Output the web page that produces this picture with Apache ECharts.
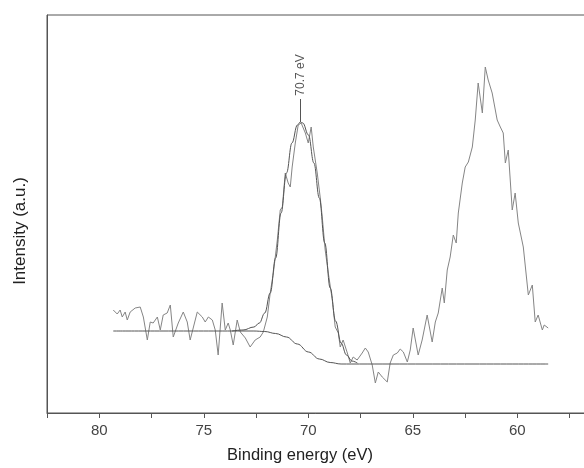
<!DOCTYPE html>
<html>
<head>
<meta charset="utf-8">
<script src="https://cdn.jsdelivr.net/npm/echarts@6/dist/echarts.min.js"></script>
<style>html,body{margin:0;padding:0;background:#fff;}#c{width:584px;height:468px;}</style>
</head>
<body>
<div id="c"></div>
<script>
// Measured spectrum (binding energy in eV, intensity in a.u.)
const bindingEnergy = [79.33,79.14,79.00,78.90,78.76,78.66,78.52,78.28,78.04,77.89,77.70,77.56,77.42,77.22,77.08,76.94,76.75,76.60,76.46,76.22,75.98,75.79,75.65,75.31,75.07,74.93,74.78,74.59,74.45,74.31,74.12,73.97,73.83,73.73,73.59,73.40,73.25,73.01,72.78,72.54,72.30,72.15,71.96,71.82,71.67,71.48,71.34,71.24,71.10,70.96,70.86,70.77,70.62,70.48,70.34,70.14,70.00,69.86,69.76,69.57,69.43,69.33,69.19,69.04,68.85,68.71,68.56,68.47,68.33,68.13,67.99,67.85,67.66,67.42,67.27,67.13,66.94,66.79,66.65,66.46,66.22,66.08,65.93,65.74,65.60,65.45,65.26,65.12,64.98,64.74,64.55,64.31,64.07,63.92,63.78,63.59,63.49,63.35,63.21,63.06,62.92,62.82,62.63,62.49,62.34,62.15,62.01,61.87,61.67,61.53,61.39,61.20,61.15,60.96,60.81,60.67,60.57,60.43,60.24,60.10,59.95,59.71,59.47,59.28,59.14,59.00,58.80,58.71,58.52];
const intensity = [103,99,103,96,101,93,101,105,106,96,73,91,90,96,83,98,100,108,76,90,101,91,73,101,96,91,96,93,83,58,110,83,90,83,68,93,81,75,66,73,76,81,96,120,140,173,203,206,240,230,226,246,270,288,290,280,270,286,266,240,216,196,163,140,113,86,80,66,73,60,50,56,53,60,65,61,48,30,41,36,31,50,58,60,64,61,51,63,85,58,73,98,71,91,100,125,110,143,156,178,170,200,230,246,251,266,293,330,300,346,333,320,318,293,286,280,250,263,203,220,190,166,118,128,91,98,83,88,85];

// Fitted envelope (peak + background)
const envEnergy = [73.65,73.12,72.60,72.34,72.08,71.82,71.56,71.30,71.04,70.78,70.52,70.38,70.26,69.99,69.73,69.47,69.21,68.95,68.69,68.43,68.17,67.91,67.65];
const envIntensity = [82,83,86,90,100,120,155,200,240,270,288,291,290,278,250,215,170,125,92,70,58,52,50];

// Background
const bgEnergy = [79.33,73.65,72.60,72.08,71.56,71.04,70.52,69.99,69.47,68.95,68.43,67.91,58.52];
const bgIntensity = [82,82,82,81.5,79.5,76,69,61,54,50.5,49,49,49];

// Peak annotation
const peakLabel = '70.7 eV';
const peakEnergy = 70.38;
const peakTop = 291;
const peakLineEnd = 314;
const peakLabelAt = 338;

// Axis tick values shown
const xTickValues = [80,75,70,65,60];

const zip = (a, b) => a.map((v, i) => [v, b[i]]);

const chart = echarts.init(document.getElementById('c'));
chart.setOption({
  animation: false,
  backgroundColor: '#fff',
  grid: {left: 47, width: 574.75, top: 15, bottom: 55, show: true, borderColor: '#555', borderWidth: 1,
         containLabel: false, outerBoundsMode: 'none'},
  xAxis: {
    type: 'value', inverse: true, min: 55, max: 82.5, interval: 2.5,
    axisLine: {show: true, lineStyle: {color: '#555', width: 1}},
    axisTick: {show: true, length: 5, lineStyle: {color: '#555'}},
    axisLabel: {
      margin: 10, color: '#444', fontSize: 15, fontFamily: 'Liberation Sans',
      formatter: v => xTickValues.indexOf(v) >= 0 ? String(v) : ''
    },
    splitLine: {show: false}
  },
  yAxis: {
    type: 'value', min: 0, max: 398,
    axisLine: {show: true, lineStyle: {color: '#555', width: 1}},
    axisTick: {show: false}, axisLabel: {show: false}, splitLine: {show: false}
  },
  graphic: [
    {type: 'text', x: 300, y: 455, style: {text: 'Binding energy (eV)', fontSize: 16.5, fontFamily: 'Liberation Sans', fill: '#222', align: 'center', verticalAlign: 'middle'}},
    {type: 'text', x: 20, y: 231, rotation: Math.PI / 2, style: {text: 'Intensity (a.u.)', fontSize: 17, fontFamily: 'Liberation Sans', fill: '#222', align: 'center', verticalAlign: 'middle'}}
  ],
  series: [
    {
      type: 'line', data: zip(bindingEnergy, intensity), symbol: 'none', silent: true,
      lineStyle: {color: '#858585', width: 1}
    },
    {
      type: 'line', data: zip(bgEnergy, bgIntensity), symbol: 'none', silent: true,
      smooth: 0.4, smoothMonotone: 'x',
      lineStyle: {color: '#555', width: 1}
    },
    {
      type: 'line', data: zip(envEnergy, envIntensity), symbol: 'none', silent: true,
      smooth: 0.4, smoothMonotone: 'x',
      lineStyle: {color: '#555', width: 1},
      markLine: {
        silent: true, symbol: 'none', animation: false,
        label: {show: false},
        lineStyle: {color: '#555', width: 1, type: 'solid'},
        data: [[{coord: [peakEnergy, peakTop]}, {coord: [peakEnergy, peakLineEnd]}]]
      },
      markPoint: {
        silent: true, symbol: 'circle', symbolSize: 0,
        label: {show: true, formatter: peakLabel, rotate: 90, fontSize: 12, color: '#555', fontFamily: 'Liberation Sans', position: 'inside'},
        data: [{coord: [peakEnergy, peakLabelAt]}]
      }
    }
  ]
});
</script>
</body>
</html>
